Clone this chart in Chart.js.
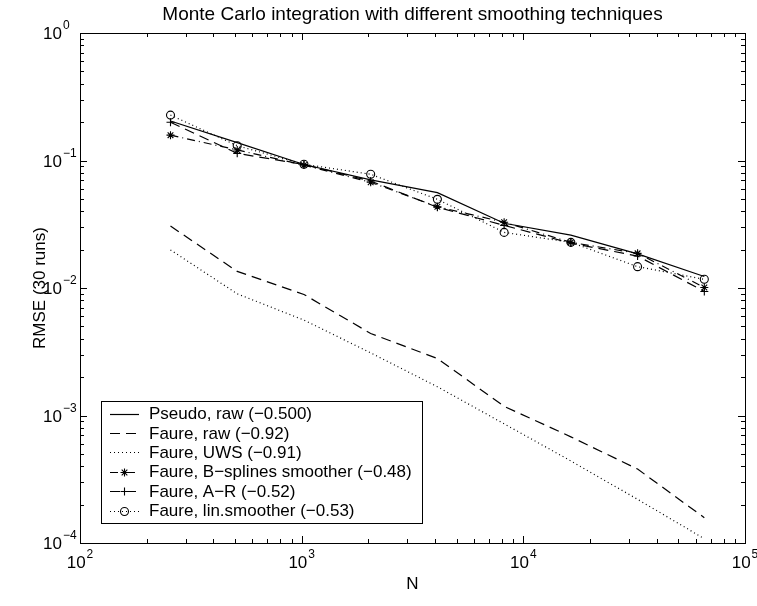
<!DOCTYPE html>
<html>
<head>
<meta charset="utf-8">
<script src="https://cdn.jsdelivr.net/npm/chart.js@4.4.0/dist/chart.umd.min.js"></script>
<style>
  body { margin: 0; background: #fff; }
  #wrap { width: 757px; height: 606px; position: relative; }
</style>
</head>
<body>
<div id="wrap"><canvas id="myChart"></canvas></div>
<script>
// sample sizes (x axis)
const nValues = [256, 512, 1024, 2048, 4096, 8192, 16384, 32768, 65536];

// RMSE
const pseudoRaw = [0.204, 0.138, 0.093, 0.0705, 0.056, 0.0322, 0.026, 0.0185, 0.0123];
const faureRaw = [0.0306, 0.0135, 0.0089, 0.0044, 0.0028, 0.00118, 0.00068, 0.00038, 0.000158];
const faureUWS = [0.0199, 0.009, 0.0056, 0.0031, 0.00168, 0.00086, 0.00044, 0.00022, 0.000108];
const faureBspl = [0.158, 0.121, 0.092, 0.0675, 0.0434, 0.0328, 0.0228, 0.0187, 0.0101];
const faureAR = [0.1995, 0.1138, 0.093, 0.069, 0.043, 0.031, 0.0225, 0.0178, 0.0094];
const faureLin = [0.227, 0.1306, 0.0935, 0.078, 0.0496, 0.0273, 0.0228, 0.0147, 0.0117];

const seriesLabels = [
  "Pseudo, raw (\u22120.500)",
  "Faure, raw (\u22120.92)",
  "Faure, UWS (\u22120.91)",
  "Faure, B\u2212splines smoother (\u22120.48)",
  "Faure, A\u2212R (\u22120.52)",
  "Faure, lin.smoother (\u22120.53)",
];

const xTickExps = [2, 3, 4, 5];
const yTickExps = [0, -1, -2, -3, -4];

const chartTitle = "Monte Carlo integration with different smoothing techniques";
const xTitle = "N";
const yTitle = "RMSE (30 runs)";

const FONT = '"Liberation Sans", Arial, Helvetica, sans-serif';

const toPoints = (vals) => nValues.map((n, i) => ({ x: n, y: vals[i] }));

const makeSet = (label, vals, dash, style) => ({
  label: label,
  data: toPoints(vals),
  borderColor: "#000",
  borderWidth: 1.2,
  borderDash: dash,
  pointStyle: style || false,
  pointRadius: style ? 4 : 0,
  pointBorderWidth: 1.1,
  pointBorderColor: "#000",
  pointBackgroundColor: "rgba(0,0,0,0)",
  tension: 0,
  fill: false,
});

const datasets = [
  makeSet(seriesLabels[0], pseudoRaw, []),
  makeSet(seriesLabels[1], faureRaw, [10, 6]),
  makeSet(seriesLabels[2], faureUWS, [1, 3]),
  makeSet(seriesLabels[3], faureBspl, [8, 4, 1, 4], "star"),
  makeSet(seriesLabels[4], faureAR, [10, 6], "cross"),
  makeSet(seriesLabels[5], faureLin, [1, 3], "circle"),
];

// 10^n label with a raised exponent
function drawPow(ctx, x, y, exp, mode) {
  const base = "10";
  const sup = exp < 0 ? "\u2212" + Math.abs(exp) : String(exp);
  ctx.font = "17px " + FONT;
  const wb = ctx.measureText(base).width;
  ctx.font = "12px " + FONT;
  const ws = ctx.measureText(sup).width;
  let x0;
  if (mode === "center") x0 = x - (wb + ws + 1) / 2;
  else x0 = x - wb;
  ctx.textAlign = "left";
  ctx.textBaseline = "middle";
  ctx.font = "17px " + FONT;
  ctx.fillText(base, x0, y);
  ctx.font = "12px " + FONT;
  ctx.fillText(sup, x0 + wb + 1, y - 8.5);
}

const matlabAxes = {
  id: "matlabAxes",
  beforeDraw(chart) {
    const ctx = chart.ctx;
    ctx.save();
    ctx.fillStyle = "#fff";
    ctx.fillRect(0, 0, chart.width, chart.height);
    ctx.restore();
  },
  afterDraw(chart) {
    const ctx = chart.ctx;
    const a = chart.chartArea;
    const xs = chart.scales.x;
    const ys = chart.scales.y;
    ctx.save();
    ctx.strokeStyle = "#000";
    ctx.fillStyle = "#000";
    ctx.lineWidth = 1;
    ctx.setLineDash([]);

    // box
    ctx.strokeRect(Math.round(a.left) + 0.5, Math.round(a.top) + 0.5,
      Math.round(a.right - a.left), Math.round(a.bottom - a.top));

    // ticks, inward on all four sides
    ctx.beginPath();
    for (let e = 2; e <= 5; e++) {
      for (let m = 1; m <= 9; m++) {
        const v = m * Math.pow(10, e);
        if (v > 100000) break;
        const px = Math.round(xs.getPixelForValue(v)) + 0.5;
        const len = m === 1 ? 7 : 4;
        ctx.moveTo(px, a.bottom); ctx.lineTo(px, a.bottom - len);
        ctx.moveTo(px, a.top); ctx.lineTo(px, a.top + len);
      }
    }
    for (let e = -4; e <= 0; e++) {
      for (let m = 1; m <= 9; m++) {
        const v = m * Math.pow(10, e);
        if (v > 1) break;
        const py = Math.round(ys.getPixelForValue(v)) + 0.5;
        const len = m === 1 ? 7 : 4;
        ctx.moveTo(a.left, py); ctx.lineTo(a.left + len, py);
        ctx.moveTo(a.right, py); ctx.lineTo(a.right - len, py);
      }
    }
    ctx.stroke();

    // tick labels
    xTickExps.forEach((e) => {
      drawPow(ctx, xs.getPixelForValue(Math.pow(10, e)), a.bottom + 20, e, "center");
    });
    yTickExps.forEach((e) => {
      drawPow(ctx, a.left - 18, ys.getPixelForValue(Math.pow(10, e)) + 1.5, e, "right");
    });

    // titles
    ctx.textAlign = "center";
    ctx.textBaseline = "middle";
    ctx.font = "19px " + FONT;
    ctx.fillText(chartTitle, (a.left + a.right) / 2, 15);
    ctx.font = "17px " + FONT;
    ctx.fillText(xTitle, (a.left + a.right) / 2, 584);
    ctx.save();
    ctx.translate(40, (a.top + a.bottom) / 2);
    ctx.rotate(-Math.PI / 2);
    ctx.fillText(yTitle, 0, 0);
    ctx.restore();

    // legend box
    const lx = 101, ly = 401, lw = 321, lh = 122, row = 19.4;
    ctx.fillStyle = "#fff";
    ctx.fillRect(lx, ly, lw, lh);
    ctx.strokeRect(lx + 0.5, ly + 0.5, lw, lh);
    chart.data.datasets.forEach((ds, i) => {
      const cy = ly + 12.5 + i * row;
      ctx.save();
      ctx.strokeStyle = "#000";
      ctx.lineWidth = 1.2;
      ctx.setLineDash(ds.borderDash);
      ctx.beginPath();
      ctx.moveTo(110, Math.round(cy) + 0.5);
      ctx.lineTo(139, Math.round(cy) + 0.5);
      ctx.stroke();
      ctx.setLineDash([]);
      if (ds.pointStyle) {
        ctx.fillStyle = "rgba(0,0,0,0)";
        ctx.lineWidth = 1.1;
        Chart.helpers.drawPoint(ctx, {
          pointStyle: ds.pointStyle, radius: 4, rotation: 0, borderWidth: 1.1,
        }, 124.5, Math.round(cy) + 0.5);
      }
      ctx.restore();
      ctx.fillStyle = "#000";
      ctx.font = "17px " + FONT;
      ctx.textAlign = "left";
      ctx.textBaseline = "middle";
      ctx.fillText(ds.label, 149, cy + 1);
    });
    ctx.restore();
  },
};

const ctx = document.getElementById("myChart").getContext("2d");
let rmseChart = new Chart(ctx, {
  type: "line",
  data: { datasets: datasets },
  options: {
    responsive: true,
    maintainAspectRatio: false,
    devicePixelRatio: 1,
    animation: false,
    layout: { padding: { left: 80, top: 33, right: 12, bottom: 63 } },
    plugins: {
      legend: { display: false },
      title: { display: false },
      tooltip: { enabled: false },
    },
    scales: {
      x: { type: "logarithmic", min: 100, max: 100000, display: false },
      y: { type: "logarithmic", min: 0.0001, max: 1, display: false },
    },
  },
  plugins: [matlabAxes],
});
</script>
</body>
</html>
